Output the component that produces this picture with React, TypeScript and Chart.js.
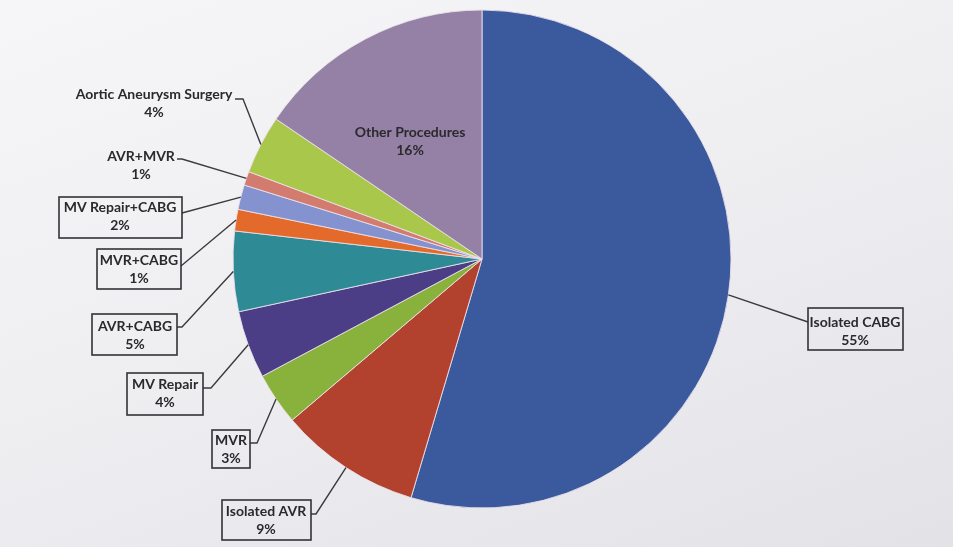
import React, { useEffect, useRef } from "react";
import { Chart, registerables } from "chart.js";

Chart.register(...registerables);

// ---- data ----
const categories = [
  "Isolated CABG",
  "Isolated AVR",
  "MVR",
  "MV Repair",
  "AVR+CABG",
  "MVR+CABG",
  "MV Repair+CABG",
  "AVR+MVR",
  "Aortic Aneurysm Surgery",
  "Other Procedures",
];
const shares = [54.6, 9.2, 3.4, 4.4, 5.2, 1.4, 1.6, 0.9, 3.8, 15.5];
const percentLabels = ["55%", "9%", "3%", "4%", "5%", "1%", "2%", "1%", "4%", "16%"];

// ---- styles ----
const sliceColors = [
  "#3b5a9d",
  "#b2422e",
  "#88b23b",
  "#4c3d87",
  "#2e8b95",
  "#e46a2b",
  "#8493d0",
  "#d27b6e",
  "#a9c74a",
  "#9580a6",
];

type Lay = {
  cx: number;
  y1: number;
  box?: [number, number, number, number];
  from?: [number, number];
  tick?: [number, number];
};

const labelLayout: Lay[] = [
  { cx: 855, y1: 322, box: [808, 308, 95, 42], from: [808, 322] },
  { cx: 266, y1: 511, box: [222, 500, 89, 40], from: [311, 514], tick: [316, 514] },
  { cx: 231, y1: 440, box: [212, 430, 38, 38], from: [250, 443], tick: [257, 443] },
  { cx: 165, y1: 384, box: [127, 373, 76, 42], from: [203, 388], tick: [211, 388] },
  { cx: 135, y1: 326, box: [92, 314, 85, 41], from: [177, 327], tick: [182, 327] },
  { cx: 139, y1: 260, box: [97, 249, 84, 40], from: [181, 266] },
  { cx: 120, y1: 207, box: [59, 197, 123, 41], from: [182, 213] },
  { cx: 141, y1: 156, from: [177, 159], tick: [182, 159] },
  { cx: 154, y1: 94, from: [235, 99], tick: [243, 99] },
  { cx: 410, y1: 132 },
];

const LINE_GAP = 18;
const TEXT_COLOR = "#2a2a2c";
const FONT = "bold 14px Lato, 'Open Sans', sans-serif";

const labelPlugin = {
  id: "calloutLabels",
  afterDraw(chart: any) {
    const ctx = chart.ctx as CanvasRenderingContext2D;
    const meta = chart.getDatasetMeta(0);
    ctx.save();
    meta.data.forEach((arc: any, i: number) => {
      const lay = labelLayout[i];
      if (!lay) return;
      const mid = (arc.startAngle + arc.endAngle) / 2;
      const r = arc.outerRadius;
      const px = arc.x + r * Math.cos(mid);
      const py = arc.y + r * Math.sin(mid);
      if (lay.from) {
        ctx.strokeStyle = "#3b3b3e";
        ctx.lineWidth = 1.4;
        ctx.beginPath();
        ctx.moveTo(lay.from[0], lay.from[1]);
        if (lay.tick) ctx.lineTo(lay.tick[0], lay.tick[1]);
        ctx.lineTo(px, py);
        ctx.stroke();
      }
      if (lay.box) {
        ctx.strokeStyle = "#333336";
        ctx.lineWidth = 1.6;
        ctx.strokeRect(lay.box[0], lay.box[1], lay.box[2], lay.box[3]);
      }
      ctx.fillStyle = TEXT_COLOR;
      ctx.font = FONT;
      ctx.textAlign = "center";
      ctx.textBaseline = "middle";
      ctx.fillText(categories[i], lay.cx, lay.y1);
      ctx.fillText(percentLabels[i], lay.cx, lay.y1 + LINE_GAP);
    });
    ctx.restore();
  },
};

export default function App() {
  const ref = useRef<HTMLCanvasElement | null>(null);

  useEffect(() => {
    if (!ref.current) return;
    const chart = new Chart(ref.current, {
      type: "pie",
      data: {
        labels: categories,
        datasets: [
          {
            data: shares,
            backgroundColor: sliceColors,
            borderColor: "rgba(236,226,236,0.85)",
            borderWidth: 1,
          },
        ],
      },
      options: {
        responsive: false,
        animation: false,
        radius: 249,
        layout: { padding: { left: 11, right: 0, top: 0, bottom: 29 } },
        plugins: {
          legend: { display: false },
          tooltip: { enabled: false },
        },
      } as any,
      plugins: [labelPlugin],
    });
    return () => chart.destroy();
  }, []);

  return (
    <div
      style={{
        position: "fixed",
        left: 0,
        top: 0,
        width: 953,
        height: 547,
        background:
          "linear-gradient(160deg, #f6f5f8 0%, #efeef1 45%, #e3e2e7 100%)",
      }}
    >
      <canvas ref={ref} width={953} height={547} style={{ display: "block" }} />
    </div>
  );
}
